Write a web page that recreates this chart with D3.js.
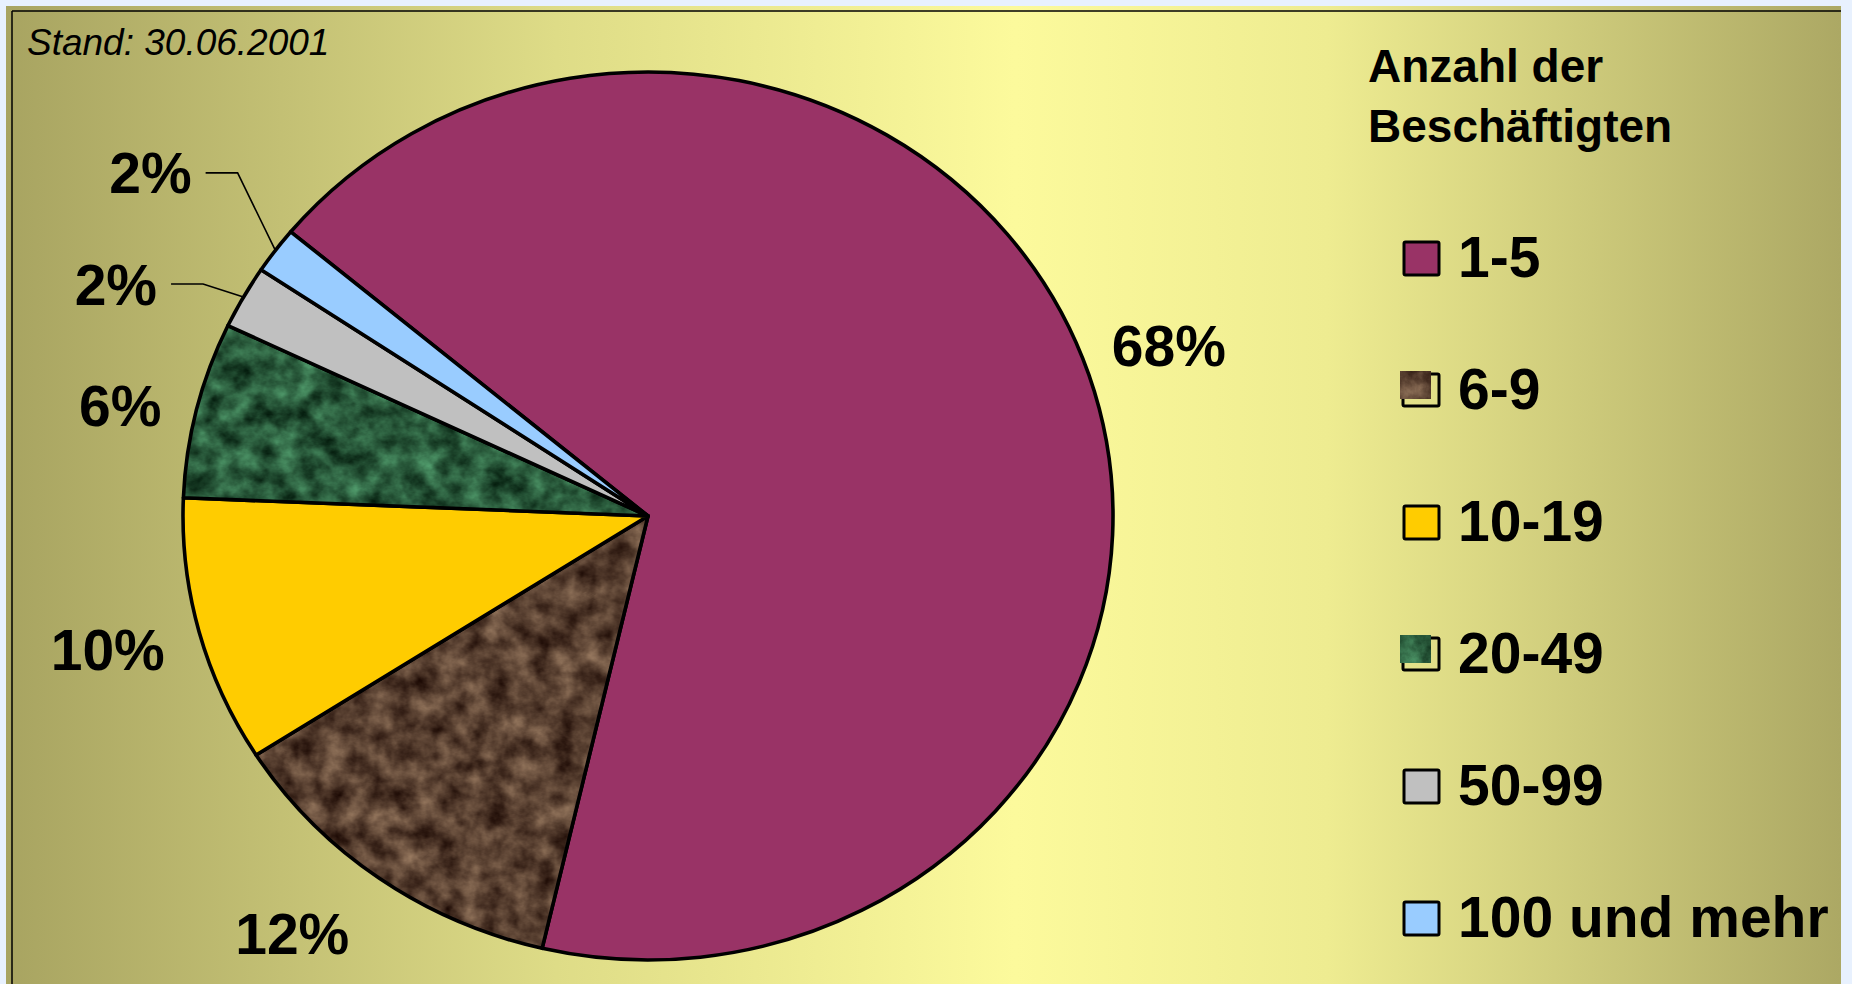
<!DOCTYPE html>
<html>
<head>
<meta charset="utf-8">
<script src="https://cdn.jsdelivr.net/npm/d3@7/dist/d3.min.js"></script>
<style>
  html, body { margin: 0; padding: 0; background: #e8f1fe; }
  svg { display: block; }
</style>
</head>
<body>
<svg id="chart" width="1852" height="984"></svg>
<script>
// ---- data ----
const categories = ["1-5", "6-9", "10-19", "20-49", "50-99", "100 und mehr"];
const shares = [67.6, 12.3, 9.7, 6.4, 2.3, 1.7];
const sliceFills = ["#993366", "url(#brownMarble)", "#ffcc00", "url(#greenMarble)", "#c0c0c0", "#99ccff"];
const legendTitle = ["Anzahl der", "Beschäftigten"];
const noteText = "Stand: 30.06.2001";

// ---- layout ----
const W = 1852, H = 984;
const cx = 648, cy = 516, rx = 465, ry = 444;
const startDeg = -50.2;
// label placement (radius factor, angle nudge in degrees), per slice
const labelLayout = [
  {r: 1.184, da: -0.4}, {r: 1.213, da: 3.8}, {r: 1.2, da: 0.6},
  {r: 1.162, da: -1.5}, {r: 1.258, da: -5.0}, {r: 1.32, da: -0.9}
];

const svg = d3.select("#chart");
const defs = svg.append("defs");

// gradient background
const grad = defs.append("linearGradient").attr("id", "bg").attr("x1", "0").attr("x2", "1").attr("y1", "0").attr("y2", "0");
[[0, "#a8a461"], [0.3, "#dedc87"], [0.55, "#fcfa9c"], [0.72, "#eeec91"], [1, "#aca864"]]
  .forEach(([o, c]) => grad.append("stop").attr("offset", o).attr("stop-color", c));

// marble textures
function marble(id, mat, freq, seed) {
  const f = defs.append("filter").attr("id", id + "F")
    .attr("filterUnits", "userSpaceOnUse").attr("x", 0).attr("y", 0).attr("width", 1200).attr("height", 1200)
    .attr("color-interpolation-filters", "sRGB");
  f.append("feTurbulence").attr("type", "fractalNoise").attr("baseFrequency", freq)
    .attr("numOctaves", 5).attr("seed", seed).attr("result", "n");
  f.append("feColorMatrix").attr("type", "matrix").attr("values", mat);
  const p = defs.append("pattern").attr("id", id).attr("patternUnits", "userSpaceOnUse")
    .attr("x", -600).attr("y", -600).attr("width", 1200).attr("height", 1200);
  p.append("rect").attr("x", 0).attr("y", 0).attr("width", 1200).attr("height", 1200)
    .attr("fill", "#fff").attr("filter", `url(#${id}F)`);
}
marble("brownMarble",
  "0.62 0 0 0 0.035  0.56 0 0 0 -0.03  0.46 0 0 0 -0.04  0 0 0 0 1", "0.045", 3);
marble("greenMarble",
  "0.42 0 0 0 -0.05  0.7 0 0 0 0.0  0.52 0 0 0 -0.03  0 0 0 0 1", "0.045", 7);

// panel
svg.append("rect").attr("x", 6).attr("y", 6).attr("width", 1835).attr("height", H).attr("fill", "url(#bg)");
svg.append("line").attr("x1", 12).attr("x2", 1841).attr("y1", 11).attr("y2", 11).attr("stroke", "#000").attr("stroke-width", 1.5);
svg.append("line").attr("x1", 12).attr("x2", 12).attr("y1", 11).attr("y2", H).attr("stroke", "#000").attr("stroke-width", 1.5);

// note
svg.append("text").attr("x", 27).attr("y", 55)
  .attr("font-family", "'Liberation Sans', Arial, sans-serif").attr("font-style", "italic")
  .attr("font-size", 37).attr("fill", "#000").text(noteText);

// pie
const toRad = d => d * Math.PI / 180;
const pie = d3.pie().sort(null).value(d => d)
  .startAngle(toRad(startDeg)).endAngle(toRad(startDeg) + 2 * Math.PI);
const arcs = pie(shares);
const arc = d3.arc().innerRadius(0).outerRadius(ry);

const pg = svg.append("g").attr("transform", `translate(${cx},${cy}) scale(${rx / ry},1)`);
pg.selectAll("path.slice").data(arcs).join("path")
  .attr("class", "slice")
  .attr("d", arc)
  .attr("fill", (d, i) => sliceFills[i])
  .attr("stroke", "#000").attr("stroke-width", 3.6)
  .attr("stroke-linejoin", "round")
  .attr("vector-effect", "non-scaling-stroke");

// labels
const fmt = d3.format(".0%");
const total = d3.sum(shares);
const pt = (a, r) => [cx + rx * r * Math.sin(a), cy - ry * r * Math.cos(a)];
const lg = svg.append("g");
arcs.forEach((d, i) => {
  const mid = (d.startAngle + d.endAngle) / 2;
  const L = labelLayout[i];
  const [lx, ly] = pt(mid + toRad(L.da), L.r);
  const t = lg.append("text").attr("x", lx).attr("y", ly).attr("dy", "0.36em")
    .attr("text-anchor", "middle")
    .attr("font-family", "'Liberation Sans', Arial, sans-serif").attr("font-weight", "bold")
    .attr("font-size", 57).attr("fill", "#000")
    .text(fmt(d.value / total));
  if (d.value < 3) {
    const w = t.node().getComputedTextLength();
    const right = lx + w / 2;
    const [ex, ey] = pt(mid, 1.0);
    lg.append("polyline")
      .attr("points", [[right + 14, ly], [right + 46, ly], [ex, ey]].map(p => p.join(",")).join(" "))
      .attr("fill", "none").attr("stroke", "#000").attr("stroke-width", 1.6);
  }
});

// legend title
svg.append("text").attr("x", 1368).attr("y", 82)
  .attr("font-family", "'Liberation Sans', Arial, sans-serif").attr("font-weight", "bold")
  .attr("font-size", 46).attr("fill", "#000")
  .selectAll("tspan").data(legendTitle).join("tspan")
  .attr("x", 1368).attr("dy", (d, i) => i === 0 ? 0 : 60).text(d => d);

// legend items
const ly0 = 277, lstep = 132;
const leg = svg.append("g");
categories.forEach((c, i) => {
  const base = ly0 + i * lstep;
  const textured = sliceFills[i].startsWith("url");
  if (textured) {
    leg.append("rect").attr("x", 1403).attr("y", base - 35).attr("width", 36).attr("height", 32)
      .attr("fill", "none").attr("stroke", "#000").attr("stroke-width", 3).attr("rx", 1.5);
    leg.append("rect").attr("x", 1400).attr("y", base - 38).attr("width", 31).attr("height", 28)
      .attr("fill", sliceFills[i]);
  } else {
    leg.append("rect").attr("x", 1404).attr("y", base - 35).attr("width", 35).attr("height", 33)
      .attr("fill", sliceFills[i]).attr("stroke", "#000").attr("stroke-width", 3).attr("rx", 1.5);
  }
  leg.append("text").attr("x", 1458).attr("y", base)
    .attr("font-family", "'Liberation Sans', Arial, sans-serif").attr("font-weight", "bold")
    .attr("font-size", 57).attr("fill", "#000").text(c);
});

// blue margin on the right
svg.append("rect").attr("x", 1841).attr("y", 0).attr("width", W - 1841).attr("height", H).attr("fill", "#e8f1fe");
</script>
</body>
</html>
